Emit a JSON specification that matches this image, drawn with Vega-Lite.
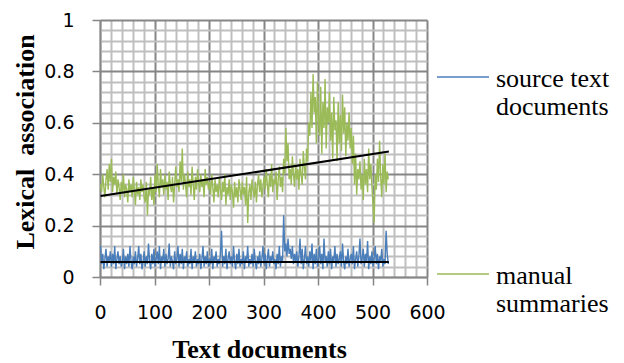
{
  "$schema": "https://vega.github.io/schema/vega-lite/v6.json",
  "autosize": "none",
  "width": 327,
  "height": 257,
  "padding": {"left": 100, "top": 20, "right": 197, "bottom": 86},
  "background": "white",
  "config": {"view": {"stroke": null}},
  "encoding": {
    "x": {
      "field": "x", "type": "quantitative",
      "scale": {"domain": [0, 600], "nice": false, "zero": false},
      "axis": {
        "values": [0,20,40,60,80,100,120,140,160,180,200,220,240,260,280,300,320,340,360,380,400,420,440,460,480,500,520,540,560,580,600],
        "title": "Text documents",
        "titleFont": "Liberation Serif", "titleFontSize": 26, "titleFontWeight": "bold", "titleColor": "black",
        "titleX": 159, "titleY": 80, "titleBaseline": "alphabetic", "titleAlign": "center", "titleAngle": 0,
        "labelExpr": "datum.value % 100 === 0 ? datum.label : ''",
        "labelFont": "DejaVu Sans", "labelFontSize": 19, "labelColor": "black", "labelPadding": 18,
        "labelFlush": false, "labelOverlap": false,
        "tickSize": 8, "tickColor": "#868686", "tickWidth": 1.5,
        "tickOpacity": {"condition": {"test": "datum.value % 100 === 0", "value": 1}, "value": 0},
        "grid": true,
        "gridColor": {"condition": {"test": "datum.value % 100 === 0", "value": "#868686"}, "value": "#bfbfbf"},
        "gridWidth": 2, "gridOpacity": 1,
        "domainColor": "#868686", "domainWidth": 1.5
      }
    },
    "y": {
      "field": "y", "type": "quantitative",
      "scale": {"domain": [0, 1], "nice": false},
      "axis": {
        "values": [0,0.04,0.08,0.12,0.16,0.2,0.24,0.28,0.32,0.36,0.4,0.44,0.48,0.52,0.56,0.6,0.64,0.68,0.72,0.76,0.8,0.84,0.88,0.92,0.96,1],
        "format": "~g",
        "title": "Lexical\u00a0 association",
        "titleFont": "Liberation Serif", "titleFontSize": 26, "titleFontWeight": "bold", "titleColor": "black",
        "titleX": -67, "titleY": 121.5, "titleBaseline": "alphabetic", "titleAlign": "center", "titleAngle": -90,
        "labelExpr": "abs(datum.value * 5 - round(datum.value * 5)) < 0.000001 ? datum.label : ''",
        "labelFont": "DejaVu Sans", "labelFontSize": 19, "labelColor": "black", "labelPadding": 18,
        "labelFlush": false, "labelOverlap": false,
        "tickSize": 8, "tickColor": "#868686", "tickWidth": 1.5,
        "tickOpacity": {"condition": {"test": "abs(datum.value * 5 - round(datum.value * 5)) < 0.000001", "value": 1}, "value": 0},
        "grid": true,
        "gridColor": {"condition": {"test": "abs(datum.value * 5 - round(datum.value * 5)) < 0.000001", "value": "#868686"}, "value": "#bfbfbf"},
        "gridWidth": 2, "gridOpacity": 1,
        "domainColor": "#868686", "domainWidth": 1.5
      }
    }
  },
  "layer": [
    {
      "data": {"values": [
        {"x":1,"a":0.12,"b":0.36},{"x":3,"a":0.05,"b":0.33},{"x":5,"a":0.09,"b":0.40},{"x":7,"a":0.03,"b":0.35},{"x":9,"a":0.07,"b":0.31},{"x":11,"a":0.11,"b":0.38},{"x":13,"a":0.04,"b":0.42},{"x":15,"a":0.08,"b":0.34},{"x":17,"a":0.06,"b":0.44},{"x":19,"a":0.10,"b":0.37},
        {"x":21,"a":0.04,"b":0.46},{"x":23,"a":0.09,"b":0.33},{"x":25,"a":0.05,"b":0.39},{"x":27,"a":0.12,"b":0.36},{"x":29,"a":0.03,"b":0.41},{"x":31,"a":0.07,"b":0.32},{"x":33,"a":0.10,"b":0.38},{"x":35,"a":0.05,"b":0.35},{"x":37,"a":0.08,"b":0.30},{"x":39,"a":0.04,"b":0.37},
        {"x":41,"a":0.06,"b":0.33},{"x":43,"a":0.11,"b":0.40},{"x":45,"a":0.03,"b":0.31},{"x":47,"a":0.08,"b":0.36},{"x":49,"a":0.05,"b":0.34},{"x":51,"a":0.09,"b":0.29},{"x":53,"a":0.04,"b":0.38},{"x":55,"a":0.12,"b":0.33},{"x":57,"a":0.06,"b":0.36},{"x":59,"a":0.03,"b":0.31},
        {"x":61,"a":0.08,"b":0.39},{"x":63,"a":0.05,"b":0.34},{"x":65,"a":0.10,"b":0.28},{"x":67,"a":0.04,"b":0.37},{"x":69,"a":0.07,"b":0.32},{"x":71,"a":0.12,"b":0.35},{"x":73,"a":0.05,"b":0.30},{"x":75,"a":0.09,"b":0.38},{"x":77,"a":0.03,"b":0.33},{"x":79,"a":0.06,"b":0.36},
        {"x":81,"a":0.10,"b":0.31},{"x":83,"a":0.04,"b":0.29},{"x":85,"a":0.08,"b":0.37},{"x":87,"a":0.05,"b":0.24},{"x":89,"a":0.13,"b":0.34},{"x":91,"a":0.06,"b":0.32},{"x":93,"a":0.03,"b":0.39},{"x":95,"a":0.09,"b":0.30},{"x":97,"a":0.05,"b":0.35},{"x":99,"a":0.11,"b":0.28},
        {"x":101,"a":0.04,"b":0.40},{"x":103,"a":0.07,"b":0.33},{"x":105,"a":0.10,"b":0.44},{"x":107,"a":0.05,"b":0.36},{"x":109,"a":0.12,"b":0.31},{"x":111,"a":0.03,"b":0.42},{"x":113,"a":0.08,"b":0.35},{"x":115,"a":0.06,"b":0.38},{"x":117,"a":0.11,"b":0.32},{"x":119,"a":0.04,"b":0.40},
        {"x":121,"a":0.09,"b":0.34},{"x":123,"a":0.05,"b":0.37},{"x":125,"a":0.07,"b":0.30},{"x":127,"a":0.13,"b":0.41},{"x":129,"a":0.04,"b":0.36},{"x":131,"a":0.08,"b":0.33},{"x":133,"a":0.06,"b":0.39},{"x":135,"a":0.03,"b":0.29},{"x":137,"a":0.10,"b":0.36},{"x":139,"a":0.05,"b":0.43},
        {"x":141,"a":0.07,"b":0.35},{"x":143,"a":0.12,"b":0.38},{"x":145,"a":0.04,"b":0.33},{"x":147,"a":0.09,"b":0.45},{"x":149,"a":0.05,"b":0.37},{"x":151,"a":0.11,"b":0.50},{"x":153,"a":0.03,"b":0.34},{"x":155,"a":0.08,"b":0.40},{"x":157,"a":0.06,"b":0.36},{"x":159,"a":0.10,"b":0.31},
        {"x":161,"a":0.04,"b":0.41},{"x":163,"a":0.07,"b":0.35},{"x":165,"a":0.05,"b":0.38},{"x":167,"a":0.11,"b":0.32},{"x":169,"a":0.03,"b":0.43},{"x":171,"a":0.08,"b":0.36},{"x":173,"a":0.06,"b":0.30},{"x":175,"a":0.10,"b":0.39},{"x":177,"a":0.04,"b":0.34},{"x":179,"a":0.07,"b":0.42},
        {"x":181,"a":0.05,"b":0.37},{"x":183,"a":0.09,"b":0.33},{"x":185,"a":0.03,"b":0.40},{"x":187,"a":0.07,"b":0.35},{"x":189,"a":0.12,"b":0.38},{"x":191,"a":0.04,"b":0.31},{"x":193,"a":0.08,"b":0.42},{"x":195,"a":0.05,"b":0.36},{"x":197,"a":0.10,"b":0.39},{"x":199,"a":0.04,"b":0.34},
        {"x":201,"a":0.07,"b":0.37},{"x":203,"a":0.05,"b":0.32},{"x":205,"a":0.11,"b":0.40},{"x":207,"a":0.03,"b":0.35},{"x":209,"a":0.08,"b":0.29},{"x":211,"a":0.06,"b":0.38},{"x":213,"a":0.10,"b":0.33},{"x":215,"a":0.04,"b":0.36},{"x":217,"a":0.07,"b":0.31},{"x":219,"a":0.05,"b":0.39},
        {"x":221,"a":0.09,"b":0.34},{"x":223,"a":0.18,"b":0.30},{"x":225,"a":0.04,"b":0.37},{"x":227,"a":0.08,"b":0.33},{"x":229,"a":0.05,"b":0.40},{"x":231,"a":0.11,"b":0.28},{"x":233,"a":0.03,"b":0.35},{"x":235,"a":0.07,"b":0.32},{"x":237,"a":0.10,"b":0.38},{"x":239,"a":0.05,"b":0.30},
        {"x":241,"a":0.08,"b":0.36},{"x":243,"a":0.04,"b":0.33},{"x":245,"a":0.12,"b":0.27},{"x":247,"a":0.06,"b":0.37},{"x":249,"a":0.03,"b":0.31},{"x":251,"a":0.09,"b":0.35},{"x":253,"a":0.05,"b":0.29},{"x":255,"a":0.11,"b":0.38},{"x":257,"a":0.04,"b":0.34},{"x":259,"a":0.07,"b":0.30},
        {"x":261,"a":0.05,"b":0.37},{"x":263,"a":0.10,"b":0.32},{"x":265,"a":0.03,"b":0.35},{"x":267,"a":0.08,"b":0.28},{"x":269,"a":0.06,"b":0.39},{"x":271,"a":0.12,"b":0.21},{"x":273,"a":0.04,"b":0.33},{"x":275,"a":0.07,"b":0.36},{"x":277,"a":0.05,"b":0.30},{"x":279,"a":0.09,"b":0.38},
        {"x":281,"a":0.04,"b":0.34},{"x":283,"a":0.11,"b":0.31},{"x":285,"a":0.06,"b":0.37},{"x":287,"a":0.03,"b":0.29},{"x":289,"a":0.08,"b":0.36},{"x":291,"a":0.05,"b":0.40},{"x":293,"a":0.10,"b":0.33},{"x":295,"a":0.04,"b":0.38},{"x":297,"a":0.07,"b":0.31},{"x":299,"a":0.12,"b":0.35},
        {"x":301,"a":0.05,"b":0.39},{"x":303,"a":0.09,"b":0.34},{"x":305,"a":0.03,"b":0.42},{"x":307,"a":0.07,"b":0.36},{"x":309,"a":0.11,"b":0.31},{"x":311,"a":0.04,"b":0.40},{"x":313,"a":0.08,"b":0.35},{"x":315,"a":0.06,"b":0.44},{"x":317,"a":0.10,"b":0.33},{"x":319,"a":0.05,"b":0.38},
        {"x":321,"a":0.07,"b":0.36},{"x":323,"a":0.03,"b":0.41},{"x":325,"a":0.09,"b":0.30},{"x":327,"a":0.05,"b":0.38},{"x":329,"a":0.12,"b":0.43},{"x":331,"a":0.04,"b":0.35},{"x":333,"a":0.08,"b":0.39},{"x":335,"a":0.06,"b":0.33},{"x":337,"a":0.24,"b":0.46},{"x":339,"a":0.10,"b":0.40},
        {"x":341,"a":0.13,"b":0.58},{"x":343,"a":0.08,"b":0.45},{"x":345,"a":0.15,"b":0.52},{"x":347,"a":0.09,"b":0.38},{"x":349,"a":0.11,"b":0.42},{"x":351,"a":0.07,"b":0.36},{"x":353,"a":0.12,"b":0.47},{"x":355,"a":0.05,"b":0.40},{"x":357,"a":0.09,"b":0.35},{"x":359,"a":0.06,"b":0.44},
        {"x":361,"a":0.10,"b":0.38},{"x":363,"a":0.04,"b":0.42},{"x":365,"a":0.08,"b":0.34},{"x":367,"a":0.15,"b":0.46},{"x":369,"a":0.05,"b":0.40},{"x":371,"a":0.11,"b":0.36},{"x":373,"a":0.03,"b":0.49},{"x":375,"a":0.07,"b":0.43},{"x":377,"a":0.12,"b":0.38},{"x":379,"a":0.05,"b":0.50},
        {"x":381,"a":0.08,"b":0.45},{"x":383,"a":0.04,"b":0.60},{"x":385,"a":0.10,"b":0.55},{"x":387,"a":0.06,"b":0.72},{"x":389,"a":0.13,"b":0.58},{"x":391,"a":0.03,"b":0.79},{"x":393,"a":0.09,"b":0.64},{"x":395,"a":0.05,"b":0.70},{"x":397,"a":0.11,"b":0.52},{"x":399,"a":0.04,"b":0.76},
        {"x":401,"a":0.07,"b":0.62},{"x":403,"a":0.12,"b":0.55},{"x":405,"a":0.05,"b":0.74},{"x":407,"a":0.09,"b":0.48},{"x":409,"a":0.03,"b":0.68},{"x":411,"a":0.15,"b":0.58},{"x":413,"a":0.06,"b":0.77},{"x":415,"a":0.08,"b":0.50},{"x":417,"a":0.04,"b":0.66},{"x":419,"a":0.10,"b":0.60},
        {"x":421,"a":0.05,"b":0.72},{"x":423,"a":0.11,"b":0.53},{"x":425,"a":0.03,"b":0.64},{"x":427,"a":0.08,"b":0.46},{"x":429,"a":0.06,"b":0.70},{"x":431,"a":0.12,"b":0.57},{"x":433,"a":0.04,"b":0.61},{"x":435,"a":0.09,"b":0.45},{"x":437,"a":0.05,"b":0.68},{"x":439,"a":0.07,"b":0.52},
        {"x":441,"a":0.10,"b":0.63},{"x":443,"a":0.04,"b":0.49},{"x":445,"a":0.13,"b":0.71},{"x":447,"a":0.06,"b":0.56},{"x":449,"a":0.03,"b":0.66},{"x":451,"a":0.08,"b":0.47},{"x":453,"a":0.05,"b":0.60},{"x":455,"a":0.11,"b":0.53},{"x":457,"a":0.04,"b":0.64},{"x":459,"a":0.07,"b":0.50},
        {"x":461,"a":0.09,"b":0.58},{"x":463,"a":0.05,"b":0.44},{"x":465,"a":0.12,"b":0.55},{"x":467,"a":0.03,"b":0.36},{"x":469,"a":0.07,"b":0.48},{"x":471,"a":0.10,"b":0.32},{"x":473,"a":0.04,"b":0.42},{"x":475,"a":0.08,"b":0.38},{"x":477,"a":0.15,"b":0.45},{"x":479,"a":0.05,"b":0.34},
        {"x":481,"a":0.07,"b":0.40},{"x":483,"a":0.11,"b":0.30},{"x":485,"a":0.04,"b":0.46},{"x":487,"a":0.09,"b":0.36},{"x":489,"a":0.06,"b":0.42},{"x":491,"a":0.14,"b":0.33},{"x":493,"a":0.03,"b":0.50},{"x":495,"a":0.08,"b":0.38},{"x":497,"a":0.05,"b":0.44},{"x":499,"a":0.10,"b":0.35},
        {"x":501,"a":0.04,"b":0.28},{"x":503,"a":0.07,"b":0.21},{"x":505,"a":0.12,"b":0.40},{"x":507,"a":0.05,"b":0.34},{"x":509,"a":0.09,"b":0.46},{"x":511,"a":0.03,"b":0.37},{"x":513,"a":0.08,"b":0.53},{"x":515,"a":0.06,"b":0.39},{"x":517,"a":0.11,"b":0.31},{"x":519,"a":0.04,"b":0.44},
        {"x":521,"a":0.07,"b":0.36},{"x":523,"a":0.05,"b":0.48},{"x":525,"a":0.18,"b":0.33},{"x":527,"a":0.09,"b":0.41},{"x":529,"a":0.05,"b":0.38}
      ]},
      "transform": [{"fold": ["a", "b"], "as": ["series", "y"]}],
      "mark": {"type": "line", "strokeWidth": 1.4, "interpolate": "linear"},
      "encoding": {
        "color": {
          "field": "series", "type": "nominal",
          "scale": {"domain": ["a", "b"], "range": ["#4a7ebb", "#9bbb59"]},
          "legend": {
            "orient": "none", "legendX": 336, "legendY": 40, "direction": "vertical",
            "title": null, "padding": 0,
            "labelExpr": "datum.value == 'a' ? ['source text', 'documents'] : ['manual', 'summaries']",
            "labelFont": "Liberation Serif", "labelFontSize": 26, "labelColor": "black", "labelLimit": 400,
            "labelBaseline": "alphabetic",
            "symbolType": "M-1,-0.38H1", "symbolSize": 2704, "symbolStrokeWidth": 1.5,
            "labelOffset": 6, "rowPadding": 137
          }
        }
      }
    },
    {
      "data": {"values": [
        {"x": 1, "series": "a", "y": 0.058},
        {"x": 530, "series": "a", "y": 0.058},
        {"x": 1, "series": "b", "y": 0.315},
        {"x": 530, "series": "b", "y": 0.488}
      ]},
      "mark": {"type": "line", "color": "black", "strokeWidth": 2},
      "encoding": {"detail": {"field": "series", "type": "nominal"}}
    }
  ]
}
